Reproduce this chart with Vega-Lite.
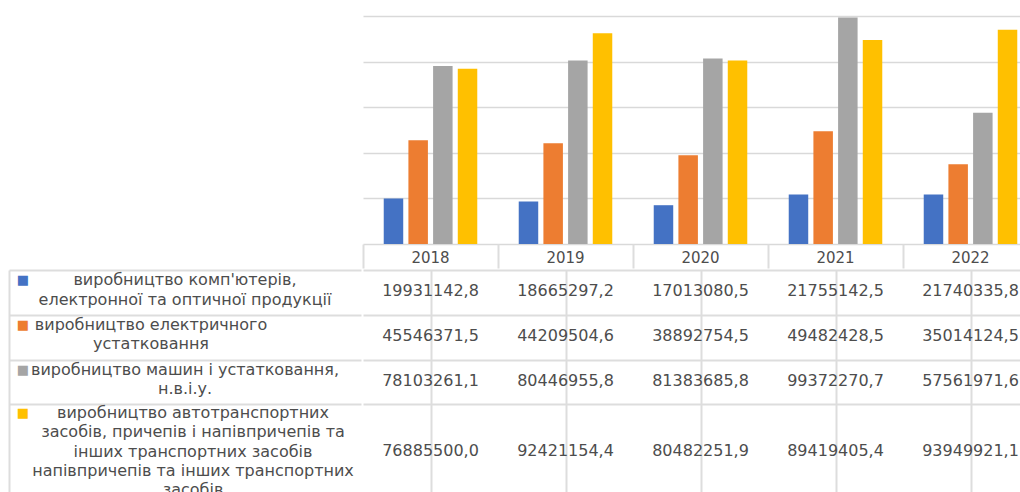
{
  "$schema": "https://vega.github.io/schema/vega-lite/v6.json",
  "background": "white",
  "padding": {"left": 8, "top": 16, "right": 0, "bottom": 0},
  "config": {
    "view": {"stroke": null},
    "locale": {"number": {"decimal": ",", "thousands": " ", "grouping": [3], "currency": ["", ""]}}
  },
  "datasets": {
    "production": [
      {"year": "2018", "series": "виробництво комп'ютерів, електронної та оптичної продукції", "value": 19931142.8},
      {"year": "2019", "series": "виробництво комп'ютерів, електронної та оптичної продукції", "value": 18665297.2},
      {"year": "2020", "series": "виробництво комп'ютерів, електронної та оптичної продукції", "value": 17013080.5},
      {"year": "2021", "series": "виробництво комп'ютерів, електронної та оптичної продукції", "value": 21755142.5},
      {"year": "2022", "series": "виробництво комп'ютерів, електронної та оптичної продукції", "value": 21740335.8},
      {"year": "2018", "series": "виробництво електричного устатковання", "value": 45546371.5},
      {"year": "2019", "series": "виробництво електричного устатковання", "value": 44209504.6},
      {"year": "2020", "series": "виробництво електричного устатковання", "value": 38892754.5},
      {"year": "2021", "series": "виробництво електричного устатковання", "value": 49482428.5},
      {"year": "2022", "series": "виробництво електричного устатковання", "value": 35014124.5},
      {"year": "2018", "series": "виробництво машин і устатковання, н.в.і.у.", "value": 78103261.1},
      {"year": "2019", "series": "виробництво машин і устатковання, н.в.і.у.", "value": 80446955.8},
      {"year": "2020", "series": "виробництво машин і устатковання, н.в.і.у.", "value": 81383685.8},
      {"year": "2021", "series": "виробництво машин і устатковання, н.в.і.у.", "value": 99372270.7},
      {"year": "2022", "series": "виробництво машин і устатковання, н.в.і.у.", "value": 57561971.6},
      {"year": "2018", "series": "виробництво автотранспортних засобів, причепів і напівпричепів та інших транспортних засобів напівпричепів та інших транспортних засобів", "value": 76885500.0},
      {"year": "2019", "series": "виробництво автотранспортних засобів, причепів і напівпричепів та інших транспортних засобів напівпричепів та інших транспортних засобів", "value": 92421154.4},
      {"year": "2020", "series": "виробництво автотранспортних засобів, причепів і напівпричепів та інших транспортних засобів напівпричепів та інших транспортних засобів", "value": 80482251.9},
      {"year": "2021", "series": "виробництво автотранспортних засобів, причепів і напівпричепів та інших транспортних засобів напівпричепів та інших транспортних засобів", "value": 89419405.4},
      {"year": "2022", "series": "виробництво автотранспортних засобів, причепів і напівпричепів та інших транспортних засобів напівпричепів та інших транспортних засобів", "value": 93949921.1}
    ],
    "legend": [
      {"series": "виробництво комп'ютерів, електронної та оптичної продукції", "label": "виробництво комп'ютерів,\nелектронної та оптичної продукції"},
      {"series": "виробництво електричного устатковання", "label": "виробництво електричного\nустатковання"},
      {"series": "виробництво машин і устатковання, н.в.і.у.", "label": "виробництво машин і устатковання,\nн.в.і.у."},
      {"series": "виробництво автотранспортних засобів, причепів і напівпричепів та інших транспортних засобів напівпричепів та інших транспортних засобів", "label": "виробництво автотранспортних\nзасобів, причепів і напівпричепів та\nінших транспортних засобів\nнапівпричепів та інших транспортних\nзасобів"}
    ]
  },
  "columns": 2,
  "spacing": 0,
  "align": "each",
  "concat": [
    {
      "width": 352,
      "height": 228,
      "data": {"values": [{}]},
      "mark": "text",
      "encoding": {"text": {"value": ""}}
    },
    {
      "width": 660,
      "height": 228,
      "data": {"name": "production"},
      "mark": {"type": "bar"},
      "encoding": {
        "x": {
          "field": "year", "type": "ordinal",
          "scale": {"range": [0, 675], "paddingInner": 0, "paddingOuter": 0},
          "axis": {"title": null, "domain": false, "grid": false, "ticks": true, "tickSize": 24, "tickWidth": 2, "tickColor": "#dddddd", "bandPosition": 0, "labelAngle": 0, "labelBaseline": "middle", "labelPadding": -11, "labelFont": "DejaVu Sans", "labelFontSize": 15, "labelColor": "#4d4d4d"}
        },
        "xOffset": {
          "field": "series", "type": "nominal",
          "scale": {
            "domain": ["виробництво комп'ютерів, електронної та оптичної продукції", "виробництво електричного устатковання", "виробництво машин і устатковання, н.в.і.у.", "виробництво автотранспортних засобів, причепів і напівпричепів та інших транспортних засобів напівпричепів та інших транспортних засобів"],
            "paddingInner": 0.21, "paddingOuter": 0.84
          }
        },
        "y": {
          "field": "value", "type": "quantitative",
          "scale": {"domain": [0, 100000000], "nice": false},
          "axis": {"title": null, "labels": false, "ticks": false, "domain": false, "grid": true, "gridColor": "#d9d9d9", "gridWidth": 1.5, "values": [0, 20000000, 40000000, 60000000, 80000000, 100000000]}
        },
        "color": {
          "field": "series", "type": "nominal",
          "scale": {
            "domain": ["виробництво комп'ютерів, електронної та оптичної продукції", "виробництво електричного устатковання", "виробництво машин і устатковання, н.в.і.у.", "виробництво автотранспортних засобів, причепів і напівпричепів та інших транспортних засобів напівпричепів та інших транспортних засобів"],
            "range": ["#4472C4", "#ED7D31", "#A5A5A5", "#FFC000"]
          },
          "legend": null
        }
      }
    },
    {
      "width": 352,
      "height": 224,
      "data": {"name": "legend"},
      "encoding": {
        "y": {
          "field": "series", "type": "nominal",
          "scale": {"domain": ["виробництво комп'ютерів, електронної та оптичної продукції", "виробництво електричного устатковання", "виробництво машин і устатковання, н.в.і.у.", "виробництво автотранспортних засобів, причепів і напівпричепів та інших транспортних засобів напівпричепів та інших транспортних засобів", "pad"], "paddingInner": 0, "paddingOuter": 0},
          "axis": {"title": null, "labels": false, "grid": false, "domain": true, "domainColor": "#dddddd", "domainWidth": 2, "ticks": true, "tickSize": -352, "tickWidth": 2, "tickColor": "#dddddd", "tickOffset": -22.4, "tickOpacity": {"condition": {"test": "datum.value === 'pad'", "value": 0}, "value": 1}}
        }
      },
      "layer": [
        {
          "transform": [{"filter": {"field": "series", "oneOf": ["виробництво комп'ютерів, електронної та оптичної продукції", "виробництво машин і устатковання, н.в.і.у."]}}],
          "mark": {"type": "text", "lineBreak": "\n", "font": "DejaVu Sans", "fontSize": 16, "lineHeight": 19.3, "color": "#4d4d4d", "baseline": "middle", "dy": -12},
          "encoding": {"text": {"field": "label"}}
        },
        {
          "transform": [{"filter": {"field": "series", "equal": "виробництво електричного устатковання"}}],
          "mark": {"type": "text", "lineBreak": "\n", "font": "DejaVu Sans", "fontSize": 16, "lineHeight": 19.3, "color": "#4d4d4d", "baseline": "middle", "dx": -34, "dy": -12},
          "encoding": {"text": {"field": "label"}}
        },
        {
          "transform": [{"filter": {"field": "series", "equal": "виробництво автотранспортних засобів, причепів і напівпричепів та інших транспортних засобів напівпричепів та інших транспортних засобів"}}],
          "mark": {"type": "text", "lineBreak": "\n", "font": "DejaVu Sans", "fontSize": 16, "lineHeight": 19.3, "color": "#4d4d4d", "baseline": "middle", "dx": 8, "dy": -13.8},
          "encoding": {"text": {"field": "label"}}
        },
        {
          "transform": [{"filter": {"field": "series", "oneOf": ["виробництво комп'ютерів, електронної та оптичної продукції", "виробництво електричного устатковання", "виробництво машин і устатковання, н.в.і.у."]}}],
          "mark": {"type": "text", "font": "DejaVu Sans", "fontSize": 13, "baseline": "middle", "dx": -162, "dy": -12},
          "encoding": {
            "text": {"value": "■"},
            "color": {"field": "series", "type": "nominal", "legend": null}
          }
        },
        {
          "transform": [{"filter": {"field": "series", "equal": "виробництво автотранспортних засобів, причепів і напівпричепів та інших транспортних засобів напівпричепів та інших транспортних засобів"}}],
          "mark": {"type": "text", "font": "DejaVu Sans", "fontSize": 13, "baseline": "middle", "dx": -162, "dy": -13.8},
          "encoding": {
            "text": {"value": "■"},
            "color": {"field": "series", "type": "nominal", "legend": null}
          }
        }
      ]
    },
    {
      "width": 660,
      "height": 224,
      "data": {"name": "production"},
      "encoding": {
        "x": {
          "field": "year", "type": "ordinal",
          "scale": {"range": [0, 675], "paddingInner": 0, "paddingOuter": 0},
          "axis": {"title": null, "orient": "top", "labels": false, "domain": false, "grid": false, "ticks": true, "tickSize": -224, "tickWidth": 2, "tickColor": "#dddddd", "bandPosition": 0}
        },
        "y": {
          "field": "series", "type": "nominal",
          "scale": {"domain": ["виробництво комп'ютерів, електронної та оптичної продукції", "виробництво електричного устатковання", "виробництво машин і устатковання, н.в.і.у.", "виробництво автотранспортних засобів, причепів і напівпричепів та інших транспортних засобів напівпричепів та інших транспортних засобів", "pad"], "paddingInner": 0, "paddingOuter": 0},
          "axis": {"title": null, "labels": false, "grid": false, "domain": false, "ticks": true, "tickSize": -660, "tickWidth": 2, "tickColor": "#dddddd", "tickOffset": -22.4, "tickOpacity": {"condition": {"test": "datum.value === 'pad'", "value": 0}, "value": 1}}
        },
        "text": {"field": "value", "type": "quantitative", "format": ".1f"}
      },
      "layer": [
        {
          "transform": [{"filter": {"not": {"field": "series", "equal": "виробництво автотранспортних засобів, причепів і напівпричепів та інших транспортних засобів напівпричепів та інших транспортних засобів"}}}],
          "mark": {"type": "text", "font": "DejaVu Sans", "fontSize": 16, "color": "#4d4d4d", "baseline": "middle", "dy": -1}
        },
        {
          "transform": [{"filter": {"field": "series", "equal": "виробництво автотранспортних засобів, причепів і напівпричепів та інших транспортних засобів напівпричепів та інших транспортних засобів"}}],
          "mark": {"type": "text", "font": "DejaVu Sans", "fontSize": 16, "color": "#4d4d4d", "baseline": "middle", "dy": 24.2}
        }
      ]
    }
  ]
}
